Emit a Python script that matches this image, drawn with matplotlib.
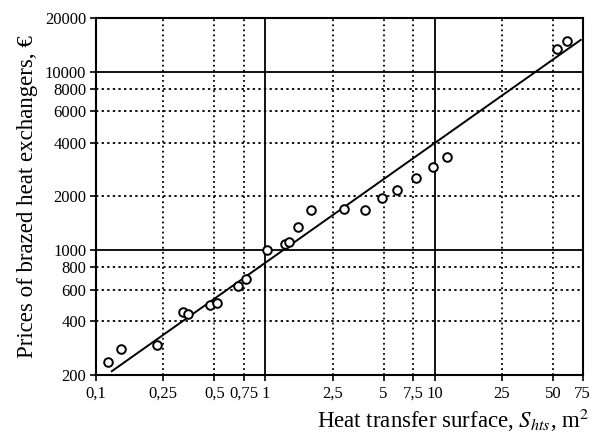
import numpy as np
import matplotlib
matplotlib.use('Agg')
import matplotlib.pyplot as plt
from matplotlib.ticker import FixedLocator, NullLocator

# surface (m2) and price (EUR) of brazed heat exchangers
surface = [0.118, 0.141, 0.230, 0.327, 0.350, 0.473, 0.520, 0.690, 0.770,
           1.03, 1.31, 1.39, 1.55, 1.85, 2.93, 3.90, 4.86, 5.96, 7.72,
           9.73, 11.8, 52.7, 60.4]
price = [237, 280, 295, 451, 439, 493, 506, 629, 689,
         1000, 1080, 1109, 1345, 1673, 1696, 1673, 1952, 2164, 2525,
         2910, 3310, 13440, 14900]

# fitted correlation  price = a * S^b
fit_a = 850.0
fit_b = 0.67
fit_x = [0.124, 73.0]

# axes ticks
xticks = [0.1, 0.25, 0.5, 0.75, 1, 2.5, 5, 7.5, 10, 25, 50, 75]
xlabels = ['0,1', '0,25', '0,5', '0,75', '1', '2,5', '5', '7,5', '10', '25', '50', '75']
yticks = [200, 400, 600, 800, 1000, 2000, 4000, 6000, 8000, 10000, 20000]
ylabels = [str(v) for v in yticks]

x_major = [1, 10]
x_minor = [0.25, 0.5, 0.75, 2.5, 5, 7.5, 25, 50]
y_major = [1000, 10000]
y_minor = [400, 600, 800, 2000, 4000, 6000, 8000]

plt.rcParams['font.family'] = ['Liberation Serif', 'DejaVu Serif']
plt.rcParams['mathtext.fontset'] = 'stix'

fig = plt.figure(figsize=(5.94, 4.37), dpi=100)
ax = fig.add_axes([0.1616, 0.142, 0.8194, 0.817])
ax.set_xscale('log')
ax.set_yscale('log')
ax.set_xlim(0.1, 75)
ax.set_ylim(200, 20000)

# grid
for v in x_major:
    ax.axvline(v, color='k', lw=1.3, zorder=1)
for v in x_minor:
    ax.axvline(v, color='k', lw=1.3, ls=(0, (1, 1.8)), zorder=1)
for v in y_major:
    ax.axhline(v, color='k', lw=1.3, zorder=1)
for v in y_minor:
    ax.axhline(v, color='k', lw=1.3, ls=(0, (1.3, 1.8)), zorder=1)

# fitted line
xl = np.array(fit_x)
ax.plot(xl, fit_a * xl ** fit_b, color='k', lw=1.4, zorder=3)

# data points
ax.plot(surface, price, 'o', ms=6.2, mfc='white', mec='k', mew=1.4, zorder=4)

ax.xaxis.set_major_locator(FixedLocator(xticks))
ax.xaxis.set_minor_locator(NullLocator())
ax.set_xticklabels(xlabels)
ax.yaxis.set_major_locator(FixedLocator(yticks))
ax.yaxis.set_minor_locator(NullLocator())
ax.set_yticklabels(ylabels)
ax.tick_params(direction='out', length=4, width=1.2, labelsize=12, pad=3)
ax.tick_params(axis='x', pad=4)

for s in ax.spines.values():
    s.set_linewidth(1.5)

ax.set_ylabel('Prices of brazed heat exchangers, €', fontsize=16.5, labelpad=5)
fig.text(0.992, 0.02, r'Heat transfer surface, $S_{hts}$, m$^2$',
         fontsize=16.5, ha='right', va='baseline')

fig.savefig('out.png', dpi=100)
